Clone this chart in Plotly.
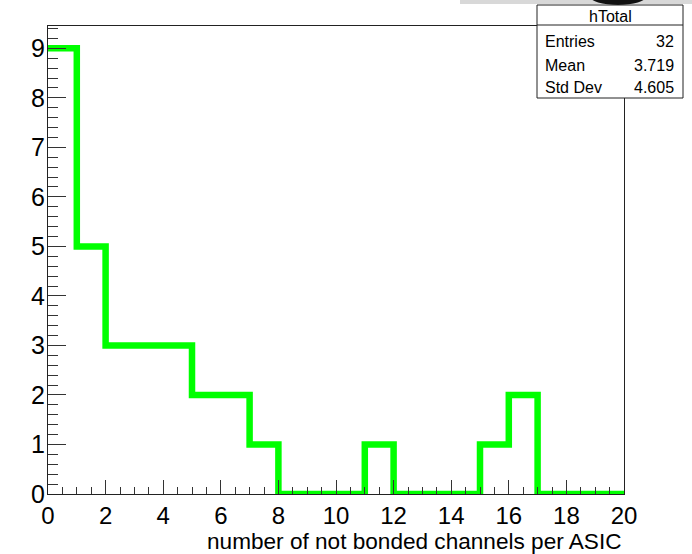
import plotly.graph_objects as go

# Histogram "hTotal": counts per integer bin 0..19
bin_edges = list(range(0, 21))
counts = [9, 5, 3, 3, 3, 2, 2, 1, 0, 0, 0, 1, 0, 0, 0, 1, 2, 0, 0, 0]

stats_title = "hTotal"
stats_labels = ["Entries", "Mean", "Std Dev"]
stats_values = ["32", "3.719", "4.605"]

x_title = "number of not bonded channels per ASIC"

W, H = 692, 554
L, R, T, B = 48, 68, 26, 60
plot_w = W - L - R
plot_h = H - T - B


def px_to_paper_x(px):
    return (px - L) / plot_w


def px_to_paper_y(py):
    return (H - B - py) / plot_h


FONT = "Liberation Sans, Arial, Helvetica, sans-serif"
NARROW = "Liberation Sans Narrow, Arial Narrow, Liberation Sans, sans-serif"
GREEN = "#00ff00"

# Step outline: each bin drawn flat from its left edge to the next edge
step_x = bin_edges
step_y = counts + [counts[-1]]

fig = go.Figure()
fig.add_trace(go.Scatter(
    x=step_x, y=step_y,
    mode="lines",
    line=dict(color=GREEN, width=6.5, shape="hv"),
    cliponaxis=False,
    hoverinfo="skip",
    showlegend=False,
))

axis_common = dict(
    showgrid=False, zeroline=False,
    showline=True, linecolor="#222", linewidth=1, mirror=True,
    ticks="inside", tickcolor="#333", tickwidth=1.3,
)

fig.update_xaxes(
    range=[0, 20], dtick=2, tick0=0, ticklen=14,
    tickfont=dict(family=NARROW, size=24, color="black"),
    minor=dict(dtick=0.5, ticks="inside", ticklen=7, tickcolor="#333", tickwidth=1.3),
    **axis_common,
)
fig.update_yaxes(
    range=[0, 9.45], dtick=1, tick0=0, ticklen=18,
    tickfont=dict(family=NARROW, size=25, color="black"),
    ticklabelstandoff=-3,
    minor=dict(dtick=0.2, ticks="inside", ticklen=10, tickcolor="#333", tickwidth=1.3),
    **axis_common,
)

shapes = []
annotations = []

# Strip along the top edge of the canvas
shapes.append(dict(type="rect", xref="paper", yref="paper",
                   x0=px_to_paper_x(460), x1=px_to_paper_x(700),
                   y0=px_to_paper_y(4), y1=px_to_paper_y(-5),
                   fillcolor="#d8d8d8", line=dict(width=0), layer="above"))
shapes.append(dict(type="circle", xref="paper", yref="paper",
                   x0=px_to_paper_x(590), x1=px_to_paper_x(646),
                   y0=px_to_paper_y(5), y1=px_to_paper_y(-12),
                   fillcolor="#111", line=dict(width=0), layer="above"))

# Statistics box
bx0, bx1, by0, by1, bdiv = 537, 683, 5, 98, 25
shapes.append(dict(type="rect", xref="paper", yref="paper",
                   x0=px_to_paper_x(bx0), x1=px_to_paper_x(bx1),
                   y0=px_to_paper_y(by1), y1=px_to_paper_y(by0),
                   fillcolor="white", line=dict(color="#222", width=1), layer="above"))
shapes.append(dict(type="line", xref="paper", yref="paper",
                   x0=px_to_paper_x(bx0), x1=px_to_paper_x(bx1),
                   y0=px_to_paper_y(bdiv), y1=px_to_paper_y(bdiv),
                   line=dict(color="#222", width=1), layer="above"))

stat_font = dict(family=FONT, size=16, color="black")
annotations.append(dict(text=stats_title, xref="paper", yref="paper",
                        x=px_to_paper_x((bx0 + bx1) / 2), y=px_to_paper_y(16),
                        xanchor="center", yanchor="middle", showarrow=False, font=stat_font))
row_y = [42, 65, 88]
for lab, val, ry in zip(stats_labels, stats_values, row_y):
    annotations.append(dict(text=lab, xref="paper", yref="paper",
                            x=px_to_paper_x(543), y=px_to_paper_y(ry),
                            xanchor="left", yanchor="middle", showarrow=False, font=stat_font))
    annotations.append(dict(text=val, xref="paper", yref="paper",
                            x=px_to_paper_x(676), y=px_to_paper_y(ry),
                            xanchor="right", yanchor="middle", showarrow=False, font=stat_font))

# X-axis title, right aligned under the axis end
annotations.append(dict(text=x_title, xref="paper", yref="paper",
                        x=1.0, y=px_to_paper_y(541),
                        xanchor="right", yanchor="middle", showarrow=False,
                        font=dict(family=FONT, size=22.6, color="black")))

fig.update_layout(
    width=W, height=H,
    margin=dict(l=L, r=R, t=T, b=B, pad=0),
    paper_bgcolor="white", plot_bgcolor="white",
    shapes=shapes, annotations=annotations,
    showlegend=False,
)

fig.write_html("out.html")
